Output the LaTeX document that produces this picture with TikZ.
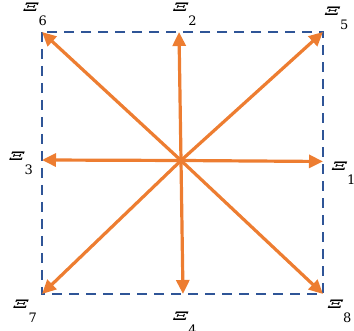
\documentclass[tikz,border=0pt]{standalone}
\usepackage{graphicx}
\usepackage{fontspec}
\newfontfamily\xifont{DejaVu Serif}
\usetikzlibrary{arrows.meta}
\definecolor{boxblue}{HTML}{2F5597}
\definecolor{rayorange}{HTML}{ED7D31}
% label: bold Xi with a dropped index
\newcommand{\xilab}[1]{\resizebox{15pt}{8.5pt}{\bfseries\itshape Ξ}\raisebox{-14pt}{\fontsize{13}{15}\selectfont #1}}
\tikzset{
  dashbox/.style={boxblue, line width=2.6pt, dash pattern=on 10pt off 7pt},
  ray/.style={rayorange, line width=3.2pt, -{Triangle[length=14pt,width=13pt]}},
  xinode/.style={inner sep=0pt, font=\xifont\fontsize{12}{14}\selectfont}
}
\begin{document}
\begin{tikzpicture}[x=1pt,y=1pt]
  \useasboundingbox (0,0) rectangle (354,331);
  \coordinate (o) at (181,170.5);
  \coordinate (p1) at (323,169.5);
  \coordinate (p2) at (179,299);
  \coordinate (p3) at (42,171);
  \coordinate (p4) at (183,37);
  \coordinate (p5) at (323,299);
  \coordinate (p6) at (42,299);
  \coordinate (p7) at (42,37);
  \coordinate (p8) at (323,37);
  \draw[dashbox] (p6) rectangle (p8);
  \foreach \i in {1,...,8}
    \draw[ray] (o) -- (p\i);
  \node[xinode, anchor=north west] (x1) at (332,169) {\xilab{1}};
  \node[xinode, anchor=north] (x2) at (185,328) {\xilab{2}};
  \node[xinode, anchor=north east] (x3) at (33,179) {\xilab{3}};
  \node[xinode, anchor=north] (x4) at (185,19) {\xilab{4}};
  \node[xinode, anchor=north west] (x5) at (325,324) {\xilab{5}};
  \node[xinode, anchor=north east] (x6) at (47,328) {\xilab{6}};
  \node[xinode, anchor=north east] (x7) at (37,31) {\xilab{7}};
  \node[xinode, anchor=north west] (x8) at (328,31) {\xilab{8}};
\end{tikzpicture}
\end{document}
